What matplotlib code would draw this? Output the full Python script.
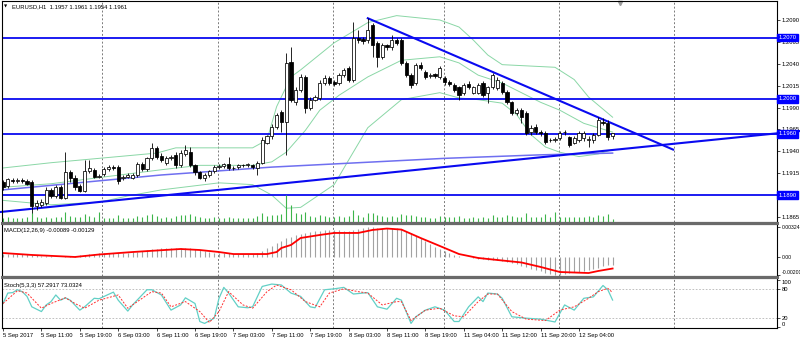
import matplotlib.pyplot as plt
import numpy as np
from matplotlib.lines import Line2D

plt.rcParams['font.family'] = ['Liberation Sans', 'DejaVu Sans']

# EURUSD H1 candles, 5 Sep 2017 03:00 .. 12 Sep 2017
opens = [1.1905, 1.1900, 1.1907, 1.1906, 1.1907, 1.1906, 1.1905, 1.1878, 1.1879, 1.1881,
         1.1896, 1.1889, 1.1899, 1.1887, 1.1916, 1.1910, 1.1900, 1.1895, 1.1918, 1.1919,
         1.1911, 1.1914, 1.1920, 1.1922, 1.1922, 1.1909, 1.1911, 1.1910, 1.1913, 1.1926,
         1.1920, 1.1932, 1.1944, 1.1935, 1.1927, 1.1932, 1.1936, 1.1924, 1.1937, 1.1939,
         1.1924, 1.1916, 1.1910, 1.1913, 1.1917, 1.1922, 1.1923, 1.1925, 1.1921, 1.1922,
         1.1924, 1.1924, 1.1924, 1.1921, 1.1927, 1.1950, 1.1957, 1.1968, 1.1985, 1.1974,
         1.2042, 1.1996, 1.2010, 1.2025, 1.1990, 1.1999, 1.2001, 1.2018, 1.2024, 1.2019,
         1.2018, 1.2027, 1.2035, 1.2021, 1.2069, 1.2068, 1.2067, 1.2084, 1.2064, 1.2048,
         1.2061, 1.2059, 1.2067, 1.2067, 1.2041, 1.2027, 1.2018, 1.2039, 1.2031, 1.2026,
         1.2028, 1.2025, 1.2024, 1.2019, 1.2016, 1.2013, 1.2007, 1.2017, 1.2007, 1.2007,
         1.2018, 1.2007, 1.2013, 1.2012, 1.2018, 1.2008, 1.1996, 1.1984, 1.1987, 1.1984,
         1.1962, 1.1968, 1.1962, 1.1961, 1.1953, 1.1953, 1.1955, 1.1962, 1.1956, 1.1950,
         1.1953, 1.1955, 1.1953, 1.1953, 1.1959, 1.1974, 1.1972, 1.1957]
highs = [1.1907, 1.1910, 1.1910, 1.1910, 1.1909, 1.1908, 1.1907, 1.1884, 1.1886, 1.1899,
         1.1898, 1.1901, 1.1902, 1.1939, 1.1919, 1.1913, 1.1903, 1.1930, 1.1930, 1.1921,
         1.1914, 1.1922, 1.1924, 1.1924, 1.1924, 1.1913, 1.1915, 1.1915, 1.1928, 1.1928,
         1.1934, 1.1950, 1.1946, 1.1938, 1.1935, 1.1936, 1.1939, 1.1941, 1.1947, 1.1945,
         1.1926, 1.1918, 1.1915, 1.1919, 1.1924, 1.1925, 1.1927, 1.1934, 1.1923, 1.1926,
         1.1926, 1.1927, 1.1926, 1.1929, 1.1956, 1.1959, 1.1971, 1.1984, 1.1987, 1.2052,
         1.2059, 1.2013, 1.2028, 1.2027, 1.2002, 1.2004, 1.2021, 1.2027, 1.2026, 1.2021,
         1.2029, 1.2035, 1.2037, 1.2088, 1.2079, 1.2071, 1.2092, 1.2087, 1.2066, 1.2064,
         1.2063, 1.2073, 1.2069, 1.2069, 1.2043, 1.2029, 1.2041, 1.2042, 1.2033, 1.2029,
         1.2029, 1.2038, 1.2026, 1.2021, 1.2018, 1.2015, 1.2018, 1.2020, 1.2015, 1.2018,
         1.2020, 1.2015, 1.2030, 1.2025, 1.2020, 1.2010, 1.1998, 1.1990, 1.1990, 1.1986,
         1.1970, 1.1971, 1.1964, 1.1963, 1.1955, 1.1956, 1.1963, 1.1964, 1.1958, 1.1957,
         1.1963, 1.1963, 1.1957, 1.1961, 1.1979, 1.1978, 1.1976, 1.1961]
lows = [1.1896, 1.1898, 1.1904, 1.1904, 1.1904, 1.1901, 1.1866, 1.1873, 1.1877, 1.1879,
        1.1887, 1.1887, 1.1885, 1.1885, 1.1905, 1.1896, 1.1893, 1.1893, 1.1915, 1.1909,
        1.1909, 1.1912, 1.1918, 1.1919, 1.1903, 1.1907, 1.1909, 1.1908, 1.1911, 1.1917,
        1.1918, 1.1930, 1.1931, 1.1928, 1.1924, 1.1930, 1.1921, 1.1922, 1.1935, 1.1922,
        1.1913, 1.1908, 1.1906, 1.1911, 1.1915, 1.1920, 1.1921, 1.1919, 1.1919, 1.1920,
        1.1922, 1.1922, 1.1920, 1.1913, 1.1925, 1.1948, 1.1954, 1.1966, 1.1962, 1.1936,
        1.1996, 1.1993, 1.2008, 1.1984, 1.1987, 1.1997, 1.1999, 1.2016, 1.2016, 1.2015,
        1.2016, 1.2025, 1.2019, 1.2019, 1.2064, 1.2063, 1.2064, 1.2048, 1.2036, 1.2045,
        1.2056, 1.2056, 1.2061, 1.2039, 1.2025, 1.2012, 1.2016, 1.2033, 1.2023, 1.2024,
        1.2024, 1.2023, 1.2016, 1.2015, 1.2008, 1.1999, 1.2004, 1.2011, 1.2005, 1.2005,
        1.2002, 1.1995, 1.2011, 1.2010, 1.2006, 1.1994, 1.1982, 1.1982, 1.1972, 1.1959,
        1.1959, 1.1960, 1.1958, 1.1948, 1.1951, 1.1951, 1.1953, 1.1959, 1.1945, 1.1948,
        1.1951, 1.1952, 1.1945, 1.1950, 1.1957, 1.1970, 1.1953, 1.1954]
closes = [1.1899, 1.1908, 1.1906, 1.1907, 1.1906, 1.1903, 1.1878, 1.1881, 1.1882, 1.1896,
          1.1889, 1.1899, 1.1887, 1.1916, 1.1910, 1.1899, 1.1895, 1.1918, 1.1921, 1.1911,
          1.1912, 1.1920, 1.1922, 1.1921, 1.1906, 1.1911, 1.1913, 1.1913, 1.1926, 1.1920,
          1.1932, 1.1944, 1.1933, 1.1930, 1.1932, 1.1933, 1.1924, 1.1938, 1.1941, 1.1924,
          1.1916, 1.1910, 1.1913, 1.1917, 1.1922, 1.1923, 1.1925, 1.1921, 1.1921, 1.1924,
          1.1924, 1.1925, 1.1922, 1.1927, 1.1953, 1.1957, 1.1968, 1.1981, 1.1974, 1.2041,
          1.1999, 1.2010, 1.2025, 1.1990, 1.1999, 1.2002, 1.2018, 1.2024, 1.2018, 1.2017,
          1.2027, 1.2033, 1.2021, 1.2069, 1.2067, 1.2066, 1.2079, 1.2061, 1.2048, 1.2061,
          1.2059, 1.2067, 1.2064, 1.2041, 1.2027, 1.2016, 1.2039, 1.2035, 1.2025, 1.2027,
          1.2026, 1.2035, 1.2019, 1.2017, 1.2010, 1.2004, 1.2016, 1.2013, 1.2013, 1.2016,
          1.2004, 1.2013, 1.2027, 1.2022, 1.2008, 1.1996, 1.1984, 1.1987, 1.1979, 1.1961,
          1.1967, 1.1962, 1.1961, 1.1951, 1.1953, 1.1954, 1.1961, 1.1962, 1.1947, 1.1955,
          1.1961, 1.1961, 1.1954, 1.1959, 1.1976, 1.1972, 1.1956, 1.1961]
volumes = [4, 5, 4, 4, 4, 5, 9, 5, 4, 5,
           4, 5, 5, 10, 6, 5, 5, 8, 6, 5,
           10, 4, 4, 4, 7, 4, 4, 4, 6, 5,
           7, 8, 6, 4, 5, 4, 6, 7, 7, 8,
           6, 5, 4, 4, 5, 4, 4, 5, 4, 4,
           4, 4, 4, 6, 9, 6, 7, 7, 8, 27,
           17, 9, 8, 10, 6, 5, 7, 6, 5, 5,
           6, 5, 6, 12, 7, 5, 9, 9, 7, 6,
           5, 6, 5, 8, 7, 7, 6, 5, 5, 4,
           4, 6, 5, 5, 5, 6, 4, 4, 5, 4,
           5, 4, 7, 5, 5, 7, 6, 5, 5, 9,
           5, 5, 5, 8, 5, 10, 5, 5, 5, 5,
           5, 5, 6, 5, 7, 6, 8, 3]

# Bollinger bands (bar, price)
bb_upper_bars = [0, 10, 20, 32, 36, 52, 55, 57, 60, 62, 69, 76, 82, 91, 95, 98, 101, 104, 115, 119, 122, 127]
bb_upper = [1.1921, 1.1927, 1.1932, 1.1938, 1.1944, 1.1944, 1.1953, 1.1991, 1.2025, 1.2033, 1.2064,
            1.2087, 1.2095, 1.2090, 1.2082, 1.2067, 1.2050, 1.2039, 1.2036, 1.2022, 1.2002, 1.1979]
bb_mid_bars = [0, 10, 20, 33, 41, 52, 56, 59, 63, 66, 70, 76, 83, 91, 95, 99, 104, 108, 112, 116, 121, 124, 127]
bb_mid = [1.1899, 1.1903, 1.1910, 1.1919, 1.1924, 1.1924, 1.1928, 1.1939, 1.1964, 1.1987, 1.2004, 1.2025,
          1.2044, 1.2048, 1.2041, 1.2027, 1.2018, 1.2007, 1.1996, 1.1987, 1.1972, 1.1967, 1.1962]
bb_lower_bars = [0, 10, 20, 26, 33, 45, 52, 56, 59, 62, 69, 72, 76, 83, 91, 95, 99, 104, 107, 110, 113,
                 116, 120, 124, 127]
bb_lower = [1.1884, 1.1879, 1.1882, 1.1889, 1.1896, 1.1904, 1.1902, 1.1890, 1.1875, 1.1876, 1.1902,
            1.1930, 1.1967, 1.1999, 1.2007, 1.2001, 1.1999, 1.1995, 1.1982, 1.1959, 1.1945, 1.1939,
            1.1934, 1.1937, 1.1942]

# slow moving average
ma_bars = [0, 33, 56, 92, 112, 127]
ma_values = [1.1896, 1.1913, 1.1922, 1.1932, 1.1936, 1.1938]

# horizontal levels and trend lines
levels = [1.2070, 1.2000, 1.1960, 1.1890]
support_bars = [-0.6, 166.0]
support_prices = [1.18707, 1.19632]
resist_bars = [76.0, 139.6]
resist_prices = [1.2092, 1.1942]

# MACD(12,26,9), main line in 1e-5
macd_main = [30, 30, 28, 28, 26, 24, 20,
             14, 10, 6, 4, 2, 2, 6, 10, 12,
             16, 22, 28, 32, 36,
             40, 43, 45, 44, 42, 44, 48, 55, 62, 70, 80,
             88, 92, 94, 95, 96, 98, 100,
             92, 80, 68, 58, 50, 44,
             40, 37, 35, 33, 32, 31, 30, 30,
             40, 65, 90, 120, 150, 175, 205, 220, 237, 250, 259, 268, 275, 281, 287, 292,
             290, 286, 283, 282, 292, 305, 315,
             324, 320, 316, 313, 312, 314, 311,
             300, 280, 255, 230, 200, 170, 140, 110, 85, 60, 40, 22,
             10, 2, -5, -12, -20,
             -28, -33, -36, -40, -47, -56,
             -70, -85, -100, -115, -130, -145,
             -160, -175, -190, -201, -195, -185,
             -175, -170, -162, -155, -148, -138,
             -120, -105, -95, -89]
macd_sig_bars = [0, 6, 15, 20, 27, 37, 41, 45, 48, 55, 57, 58, 60, 62, 66, 69, 74, 77, 80, 83, 87, 91,
                 95, 99, 103, 108, 112, 116, 122, 124, 127]
macd_signal = [40, 19, -3, 24, 51, 84, 73, 51, 29, 29, 51, 95, 128, 204, 237, 259, 259, 292, 307, 296,
               204, 117, 29, -14, -36, -63, -112, -167, -178, -156, -129]

# Stochastic(5,3,3)
stoch_main_bars = [0, 1, 2, 3, 4, 5, 6, 8, 9, 10, 11, 12, 13, 14, 16, 17, 19, 20, 23, 24, 26, 27, 30, 31,
                   33, 35, 37, 38, 40, 41, 42, 44, 45, 46, 47, 49, 51, 52, 54, 56, 58, 60, 62, 64, 65,
                   67, 69, 71, 73, 76, 78, 80, 82, 83, 85, 86, 88, 90, 92, 94, 95, 97, 99, 100, 101,
                   103, 104, 106, 109, 112, 115, 117, 119, 121, 123, 125, 126, 127]
stoch_main = [50, 72, 73, 79, 75, 65, 43, 33, 47, 54, 68, 57, 62, 57, 36, 43, 61, 60, 74, 57, 34, 47, 79,
              79, 68, 36, 47, 62, 50, 12, 8, 19, 61, 84, 72, 43, 41, 43, 86, 91, 89, 72, 65, 43, 41,
              79, 81, 84, 70, 73, 43, 38, 61, 57, 8, 22, 36, 43, 36, 12, 12, 43, 64, 54, 72, 70, 61,
              22, 19, 17, 11, 47, 36, 61, 64, 88, 79, 57.29]
stoch_sig_bars = [0, 3, 5, 8, 10, 13, 15, 17, 20, 24, 26, 31, 33, 35, 38, 41, 43, 45, 47, 50, 52, 55,
                  57, 60, 63, 66, 68, 71, 74, 76, 79, 82, 83, 85, 88, 91, 94, 96, 99, 101, 103, 106,
                  109, 113, 116, 119, 122, 124, 126, 127]
stoch_signal = [50, 77, 72, 40, 50, 62, 50, 40, 57, 68, 40, 75, 72, 43, 54, 33, 10, 33, 75, 47, 40,
                75, 89, 79, 54, 43, 72, 81, 75, 72, 47, 54, 54, 14, 36, 40, 24, 22, 54, 70, 70, 33,
                17, 14, 36, 43, 61, 75, 82, 73.03]

time_labels = ['5 Sep 2017', '5 Sep 11:00', '5 Sep 19:00', '6 Sep 03:00', '6 Sep 11:00', '6 Sep 19:00',
               '7 Sep 03:00', '7 Sep 11:00', '7 Sep 19:00', '8 Sep 03:00', '8 Sep 11:00', '8 Sep 19:00',
               '11 Sep 04:00', '11 Sep 12:00', '11 Sep 20:00', '12 Sep 04:00']
label_bars = list(range(0, 121, 8))
grid_bars = [20.6, 44.8, 68.75, 91.9, 115.8, 139.8]
price_ticks = [1.1865, 1.1890, 1.1915, 1.1940, 1.1965, 1.1990, 1.2015, 1.2040, 1.2065, 1.2090]

W, H = 800, 342
fig = plt.figure(figsize=(W / 100, H / 100), dpi=100)
fig.patch.set_facecolor('white')


def px_axes(x0, y0, x1, y1):
    """Axes placed by pixel edges, y measured from the top"""
    return fig.add_axes([x0 / W, 1 - y1 / H, (x1 - x0) / W, (y1 - y0) / H])


ax = px_axes(2, 1, 777, 222)
ax_vol = px_axes(2, 182, 777, 222)
ax_macd = px_axes(2, 224, 777, 276)
ax_st = px_axes(2, 278, 777, 328)

xmin, xmax = -0.21, 161.25
fs = 4.2
for a in (ax, ax_vol, ax_macd, ax_st):
    a.set_xlim(xmin, xmax)
    for s in a.spines.values():
        s.set_linewidth(0.8)
        s.set_color('black')
    a.tick_params(axis='x', bottom=False, labelbottom=False)
    a.yaxis.tick_right()
    a.tick_params(axis='y', length=2, width=0.5, labelsize=fs, pad=1.5, colors='black')
    if a is not ax_vol:
        for g in grid_bars:
            a.axvline(g, color='#7a7a7a', lw=0.7, ls=(0, (2, 2)), zorder=0)

# volumes in the bottom of the price window
x = np.arange(len(closes))
ax_vol.patch.set_alpha(0)
ax_vol.axis('off')
ax_vol.set_ylim(0, 40)
ax_vol.vlines(x, 0, volumes, color='#3db54a', lw=0.8)

# price window
ax.set_ylim(1.18593, 1.21117)
ax.set_yticks(price_ticks)
# the 1.1890 level box sits on top of that tick
ax.set_yticklabels(['' if abs(v - 1.1890) < 1e-6 else f'{v:.4f}' for v in price_ticks])

ax.plot(bb_upper_bars, bb_upper, color='#8ad7a6', lw=0.7, zorder=1)
ax.plot(bb_mid_bars, bb_mid, color='#8ad7a6', lw=0.7, zorder=1)
ax.plot(bb_lower_bars, bb_lower, color='#8ad7a6', lw=0.7, zorder=1)
ax.plot(ma_bars, ma_values, color='#6f6ff0', lw=1.1, zorder=1)

for lvl in levels:
    ax.axhline(lvl, color='#0a0af0', lw=1.3, zorder=2)
    ax.text(1.002, lvl, f'{lvl:.4f}', transform=ax.get_yaxis_transform(), ha='left', va='center',
            fontsize=fs, color='white', zorder=6, clip_on=False,
            bbox=dict(boxstyle='square,pad=0.25', fc='#0000ff', ec='#0000ff'))

ax.plot(support_bars, support_prices, color='#0a0af0', lw=1.5, zorder=2, clip_on=False)
ax.plot(resist_bars, resist_prices, color='#0a0af0', lw=1.5, zorder=2)

o, h, l, c = map(np.array, (opens, highs, lows, closes))
ax.vlines(x, l, h, color='black', lw=0.6, zorder=3)
body = np.maximum(np.abs(c - o), 0.00003)
ax.bar(x, body, bottom=np.minimum(o, c), width=0.66,
       color=['white' if cc >= oo else 'black' for oo, cc in zip(o, c)],
       edgecolor='black', lw=0.55, zorder=4)

ax.plot([128.5], [1.2109], marker='v', ms=3, color='#9a9a9a', clip_on=False)
fig.text(4 / W, 1 - 6.5 / H, '\u25bc', fontsize=3, va='center', family=['DejaVu Sans'])
fig.text(12 / W, 1 - 6.5 / H, 'EURUSD,H1  1.1957 1.1961 1.1954 1.1961', fontsize=fs, va='center')

# MACD window
macd_main = np.array(macd_main) * 1e-5
ax_macd.set_ylim(-0.002106, 0.003567)
ax_macd.vlines(x, 0, macd_main, color='#a2a2a2', lw=0.8)
ax_macd.plot(macd_sig_bars, np.array(macd_signal) * 1e-5, color='#ff0000', lw=1.3)
ax_macd.set_yticks([0.00324, 0.0, -0.00201])
ax_macd.set_yticklabels(['0.00324', '0.00', '-0.00201'])
ax_macd.tick_params(axis='y', labelsize=3.7)
ax_macd.get_yticklabels()[2].set_va('bottom')
ax_macd.text(0.003, 0.92, 'MACD(12,26,9) -0.00089 -0.00129', transform=ax_macd.transAxes,
             fontsize=fs, va='top')

# Stochastic window
ax_st.set_ylim(-1.7, 103.8)
for lvl in (20, 80):
    ax_st.axhline(lvl, color='#b5b5b5', lw=0.6, ls=(0, (2, 2)))
ax_st.plot(stoch_main_bars, stoch_main, color='#62d0c6', lw=0.9)
ax_st.plot(stoch_sig_bars, stoch_signal, color='#ff3030', lw=0.7, ls=(0, (2, 1.5)))
ax_st.set_yticks([100, 80, 20, 0])
ax_st.set_yticklabels(['100', '80', '20', '0'])
st_labels = ax_st.get_yticklabels()
st_labels[0].set_va('top')
st_labels[3].set_va('bottom')
ax_st.text(0.003, 0.9, 'Stoch(5,3,3) 57.2917 73.0324', transform=ax_st.transAxes, fontsize=fs, va='top')

ax_st.set_xticks(label_bars)
ax_st.set_xticklabels(time_labels, ha='left')
ax_st.tick_params(axis='x', bottom=True, labelbottom=True, length=2, width=0.5, labelsize=fs, pad=1.5)

# window separators
for yy in (223, 277):
    fig.add_artist(Line2D([2 / W, 777 / W], [1 - yy / H, 1 - yy / H], color='#6a6a6a', lw=2.2))

fig.savefig('out.png', dpi=100)
